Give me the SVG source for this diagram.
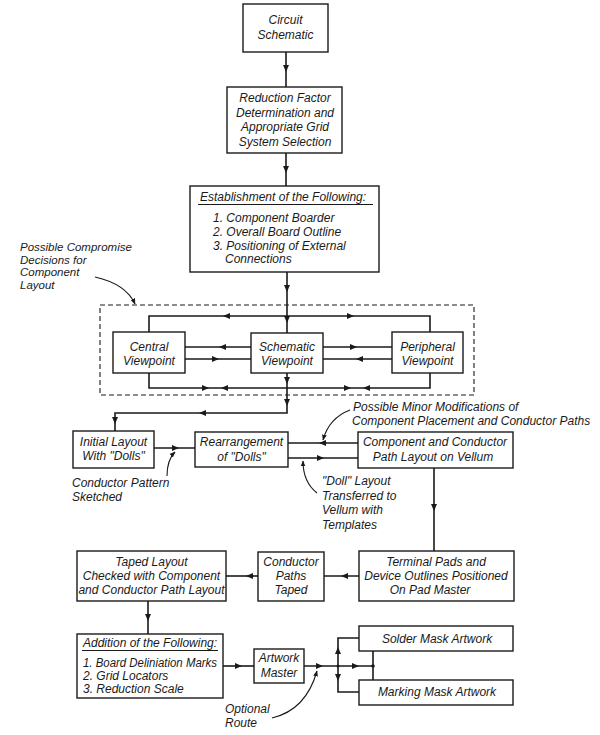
<svg xmlns="http://www.w3.org/2000/svg" xmlns:xlink="http://www.w3.org/1999/xlink" width="600" height="735" viewBox="0 0 600 735">
<style>
.box{fill:#fff;stroke:#1a1a1a;stroke-width:1.4}
.ln{fill:none;stroke:#1a1a1a;stroke-width:1.6}
.ann{fill:none;stroke:#1a1a1a;stroke-width:1.1}
.dash{fill:none;stroke:#1a1a1a;stroke-width:1.1;stroke-dasharray:5,3}
text{font-family:"Liberation Sans",Arial,sans-serif;font-style:italic;font-size:12px;fill:#1a1a1a}
.c{text-anchor:middle}
.s{font-size:11.5px}
.ah{fill:#1a1a1a}
</style>
<defs>
<path id="a" class="ah" d="M3,0 L-4,-3 L-4,3 Z"/>
<marker id="m" viewBox="0 0 10 10" refX="9" refY="5" markerWidth="6" markerHeight="6" orient="auto" markerUnits="userSpaceOnUse"><path d="M0,1 L10,5 L0,9 Z" fill="#1a1a1a"/></marker>
</defs>
<rect width="600" height="735" fill="#fff"/>

<g id="connectors">
<line class="ln" x1="286" y1="52" x2="286" y2="87"/>
<use xlink:href="#a" transform="translate(286,69) rotate(90)"/>
<line class="ln" x1="286" y1="153" x2="286" y2="186"/>
<use xlink:href="#a" transform="translate(286,170) rotate(90)"/>
<line class="ln" x1="287" y1="272" x2="287" y2="333"/>
<use xlink:href="#a" transform="translate(287,289) rotate(90)"/>
<use xlink:href="#a" transform="translate(287,320) rotate(90)"/>
<polyline class="ln" points="149,332 149,316 430,316 430,332"/>
<use xlink:href="#a" transform="translate(226,316) rotate(180)"/>
<use xlink:href="#a" transform="translate(351,316)"/>
<line class="ln" x1="185" y1="347" x2="251" y2="347"/>
<use xlink:href="#a" transform="translate(222,347) rotate(180)"/>
<line class="ln" x1="185" y1="359" x2="251" y2="359"/>
<use xlink:href="#a" transform="translate(216,359)"/>
<line class="ln" x1="323" y1="347" x2="392" y2="347"/>
<use xlink:href="#a" transform="translate(354,347)"/>
<line class="ln" x1="323" y1="359" x2="392" y2="359"/>
<use xlink:href="#a" transform="translate(359,359) rotate(180)"/>
<polyline class="ln" points="149,373 149,388 430,388 430,373"/>
<use xlink:href="#a" transform="translate(206,388)"/>
<use xlink:href="#a" transform="translate(224,388) rotate(180)"/>
<use xlink:href="#a" transform="translate(348,388)"/>
<use xlink:href="#a" transform="translate(366,388) rotate(180)"/>
<polyline class="ln" points="287,373 287,413 115,413 115,431"/>
<use xlink:href="#a" transform="translate(287,381) rotate(90)"/>
<use xlink:href="#a" transform="translate(287,403) rotate(90)"/>
<use xlink:href="#a" transform="translate(202,413) rotate(180)"/>
<use xlink:href="#a" transform="translate(115,421) rotate(90)"/>
<line class="ln" x1="154" y1="448" x2="195" y2="448"/>
<use xlink:href="#a" transform="translate(176,448)"/>
<line class="ln" x1="288" y1="443" x2="358" y2="443"/>
<use xlink:href="#a" transform="translate(322,443) rotate(180)"/>
<line class="ln" x1="288" y1="458" x2="358" y2="458"/>
<use xlink:href="#a" transform="translate(321,458)"/>
<line class="ln" x1="434" y1="468" x2="434" y2="551"/>
<use xlink:href="#a" transform="translate(434,508) rotate(90)"/>
<line class="ln" x1="324" y1="576" x2="359" y2="576"/>
<use xlink:href="#a" transform="translate(344,576) rotate(180)"/>
<line class="ln" x1="226" y1="576" x2="258" y2="576"/>
<use xlink:href="#a" transform="translate(249,576) rotate(180)"/>
<line class="ln" x1="148" y1="601" x2="148" y2="634"/>
<use xlink:href="#a" transform="translate(148,618) rotate(90)"/>
<line class="ln" x1="223" y1="666" x2="254" y2="666"/>
<use xlink:href="#a" transform="translate(239,666)"/>
<line class="ln" x1="304" y1="666" x2="373" y2="666"/>
<use xlink:href="#a" transform="translate(320,666)"/>
<use xlink:href="#a" transform="translate(356,666)"/>
<polyline class="ln" points="359,638 338,638 338,692 359,692"/>
<use xlink:href="#a" transform="translate(338,650) rotate(-90)"/>
<use xlink:href="#a" transform="translate(338,678) rotate(90)"/>
<line class="ln" x1="373" y1="651" x2="373" y2="680"/>
<circle cx="373" cy="666" r="1.8" fill="#1a1a1a"/>
<circle cx="338" cy="666" r="1.5" fill="#1a1a1a"/>
<path class="ann" d="M95,277 Q126,284 135,304" marker-end="url(#m)"/>
<path class="ann" d="M167,476 Q167,460 175,452" marker-end="url(#m)"/>
<path class="ann" d="M350,410 Q329,418 323,440" marker-end="url(#m)"/>
<path class="ann" d="M317,493 Q303,482 303,461" marker-end="url(#m)"/>
<path class="ann" d="M272,718 Q306,710 317,671" marker-end="url(#m)"/>
</g>

<g id="circuit"><rect class="box" x="243" y="4" width="85" height="48"/>
<text class="c" x="285.5" y="24">Circuit</text><text class="c" x="285.5" y="39">Schematic</text></g>

<g id="reduction"><rect class="box" x="227" y="87" width="115" height="66"/>
<text class="c" x="285" y="102">Reduction Factor</text>
<text class="c" x="285" y="116.5">Determination and</text>
<text class="c" x="285" y="131">Appropriate Grid</text>
<text class="c" x="285" y="145.5">System Selection</text></g>

<g id="establishment"><rect class="box" x="190" y="186" width="189" height="86"/>
<text x="200" y="201">Establishment of the Following:</text>
<line x1="198" y1="204.5" x2="373" y2="204.5" stroke="#1a1a1a" stroke-width="1"/>
<text x="213" y="222">1. Component Boarder</text>
<text x="213" y="236">2. Overall Board Outline</text>
<text x="213" y="249.5">3. Positioning of External</text>
<text x="225" y="263">Connections</text></g>

<g id="compromise-note">
<text class="s" x="20" y="251">Possible Compromise</text>
<text class="s" x="20" y="263.5">Decisions for</text>
<text class="s" x="20" y="276">Component</text>
<text class="s" x="20" y="288.5">Layout</text></g>

<g id="compromise-group"><rect class="dash" x="100" y="305" width="374" height="90"/></g>

<g id="central"><rect class="box" x="113" y="332" width="72" height="41"/>
<text class="c" x="149" y="351">Central</text><text class="c" x="149" y="365">Viewpoint</text></g>
<g id="schematic"><rect class="box" x="251" y="333" width="72" height="40"/>
<text class="c" x="287" y="351">Schematic</text><text class="c" x="287" y="365">Viewpoint</text></g>
<g id="peripheral"><rect class="box" x="392" y="332" width="71" height="41"/>
<text class="c" x="427.5" y="351">Peripheral</text><text class="c" x="427.5" y="365">Viewpoint</text></g>

<g id="initial"><rect class="box" x="73" y="431" width="81" height="37"/>
<text class="c" x="113.5" y="446">Initial Layout</text><text class="c" x="113.5" y="460">With "Dolls"</text></g>
<g id="rearrangement"><rect class="box" x="195" y="432" width="93" height="35"/>
<text class="c" x="241.5" y="446">Rearrangement</text><text class="c" x="241.5" y="461">of "Dolls"</text></g>
<g id="component-layout"><rect class="box" x="358" y="432" width="155" height="36"/>
<text class="c" x="435" y="446">Component and Conductor</text><text class="c" x="433" y="461">Path Layout on Vellum</text></g>

<g id="notes-mid">
<text x="72" y="487">Conductor Pattern</text>
<text x="72" y="501">Sketched</text>
<text x="353" y="411">Possible Minor Modifications of</text>
<text x="352" y="425">Component Placement and Conductor Paths</text>
<text x="322" y="485">"Doll" Layout</text>
<text x="322" y="499.5">Transferred to</text>
<text x="322" y="514">Vellum with</text>
<text x="322" y="528.5">Templates</text></g>

<g id="taped-layout"><rect class="box" x="77" y="551" width="149" height="50"/>
<text class="c" x="151.5" y="566">Taped Layout</text>
<text class="c" x="151.5" y="580">Checked with Component</text>
<text class="c" x="151.5" y="594">and Conductor Path Layout</text></g>
<g id="conductor-paths"><rect class="box" x="258" y="552" width="66" height="49"/>
<text class="c" x="291" y="566">Conductor</text><text class="c" x="291" y="580">Paths</text><text class="c" x="291" y="594">Taped</text></g>
<g id="terminal-pads"><rect class="box" x="359" y="551" width="155" height="50"/>
<text class="c" x="436" y="566">Terminal Pads and</text>
<text class="c" x="436" y="580">Device Outlines Positioned</text>
<text class="c" x="430" y="594">On Pad Master</text></g>

<g id="addition"><rect class="box" x="77" y="634" width="146" height="64"/>
<text x="83" y="647">Addition of the Following:</text>
<line x1="82" y1="650.5" x2="218" y2="650.5" stroke="#1a1a1a" stroke-width="1"/>
<text x="83" y="667" textLength="134" lengthAdjust="spacingAndGlyphs">1. Board Deliniation Marks</text>
<text x="83" y="679.5">2. Grid Locators</text>
<text x="83" y="693">3. Reduction Scale</text></g>
<g id="artwork-master"><rect class="box" x="254" y="649" width="50" height="34"/>
<text class="c" x="279" y="662">Artwork</text><text class="c" x="279" y="677">Master</text></g>
<g id="solder-mask"><rect class="box" x="359" y="626" width="154" height="25"/>
<text class="c" x="437" y="643">Solder Mask Artwork</text></g>
<g id="marking-mask"><rect class="box" x="359" y="680" width="154" height="25"/>
<text class="c" x="437" y="696">Marking Mask Artwork</text></g>
<g id="optional-note"><text x="225" y="713">Optional</text><text x="225" y="727">Route</text></g>
</svg>
